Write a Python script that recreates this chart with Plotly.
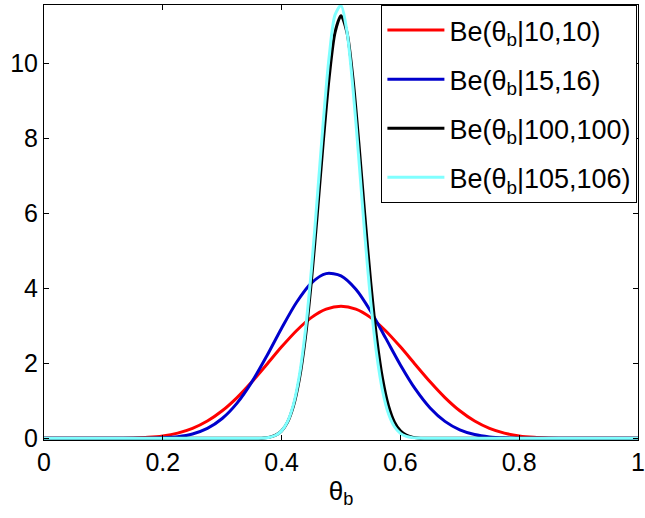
import plotly.graph_objects as go

# Be(10,10)
x_red = [0, 0.05, 0.1, 0.125, 0.15, 0.175, 0.2, 0.225, 0.25, 0.275, 0.3, 0.325, 0.35, 0.375, 0.4, 0.425,
         0.45, 0.475, 0.5, 0.525, 0.55, 0.575, 0.6, 0.625, 0.65, 0.675, 0.7, 0.725, 0.75, 0.775, 0.8,
         0.825, 0.85, 0.875, 0.9, 0.95, 1]
y_red = [0, 0, 0.0004, 0.0021, 0.0083, 0.0252, 0.0635, 0.1377, 0.2646, 0.460, 0.734, 1.087, 1.508, 1.971,
         2.440, 2.871, 3.219, 3.445, 3.524, 3.445, 3.219, 2.871, 2.440, 1.971, 1.508, 1.087, 0.734, 0.460,
         0.2646, 0.1377, 0.0635, 0.0252, 0.0083, 0.0021, 0.0004, 0, 0]

# Be(15,16)
x_blue = [0, 0.05, 0.1, 0.15, 0.175, 0.2, 0.225, 0.25, 0.275, 0.3, 0.325, 0.35, 0.375, 0.4, 0.425, 0.45,
          0.475, 0.5, 0.525, 0.55, 0.575, 0.6, 0.625, 0.65, 0.675, 0.7, 0.725, 0.75, 0.775, 0.8, 0.825,
          0.85, 0.9, 0.95, 1]
y_blue = [0, 0, 0, 0.0006, 0.0033, 0.0134, 0.0433, 0.1158, 0.2646, 0.5284, 0.939, 1.505, 2.195, 2.937,
          3.624, 4.142, 4.394, 4.334, 3.976, 3.388, 2.679, 1.958, 1.317, 0.810, 0.452, 0.2265, 0.1003,
          0.0386, 0.0126, 0.0034, 0.0007, 0.0001, 0, 0, 0]

# Be(100,100)
x_black = [0, 0.1, 0.2, 0.3, 0.34, 0.35, 0.36, 0.37, 0.38, 0.39, 0.4, 0.41, 0.42, 0.43, 0.44, 0.45, 0.46,
           0.47, 0.48, 0.49, 0.5, 0.51, 0.52, 0.53, 0.54, 0.55, 0.56, 0.57, 0.58, 0.59, 0.6, 0.61, 0.62,
           0.63, 0.64, 0.65, 0.66, 0.7, 0.8, 0.9, 1]
y_black = [0, 0, 0, 0, 0, 0.0010, 0.0035, 0.0110, 0.0317, 0.0830, 0.198, 0.432, 0.865, 1.588, 2.681,
           4.167, 5.969, 7.886, 9.618, 10.832, 11.270, 10.832, 9.618, 7.886, 5.969, 4.167, 2.681, 1.588,
           0.865, 0.432, 0.198, 0.0830, 0.0317, 0.0110, 0.0035, 0.0010, 0, 0, 0, 0, 0]

# Be(105,106)
x_cyan = [0, 0.1, 0.2, 0.3, 0.34, 0.35, 0.36, 0.37, 0.38, 0.39, 0.4, 0.41, 0.42, 0.43, 0.44, 0.45, 0.46,
          0.47, 0.48, 0.49, 0.5, 0.51, 0.52, 0.53, 0.54, 0.55, 0.56, 0.57, 0.58, 0.59, 0.6, 0.61, 0.62,
          0.63, 0.64, 0.65, 0.66, 0.7, 0.8, 0.9, 1]
y_cyan = [0, 0, 0, 0, 0, 0.0009, 0.0030, 0.0100, 0.0299, 0.0809, 0.1985, 0.4429, 0.9025, 1.680, 2.862,
          4.467, 6.398, 8.414, 10.168, 11.298, 11.548, 10.855, 9.366, 7.464, 5.448, 3.655, 2.249, 1.267,
          0.6533, 0.3078, 0.1323, 0.0518, 0.0184, 0.0059, 0.0017, 0.0005, 0, 0, 0, 0, 0]

names = ["Be(θ<sub>b</sub>|10,10)", "Be(θ<sub>b</sub>|15,16)",
         "Be(θ<sub>b</sub>|100,100)", "Be(θ<sub>b</sub>|105,106)"]
colors = ["#ff0000", "#0000cc", "#000000", "#80ffff"]
xs = [x_red, x_blue, x_black, x_cyan]
ys = [y_red, y_blue, y_black, y_cyan]

x_ticks = [0, 0.2, 0.4, 0.6, 0.8, 1]
x_ticktext = ["0", "0.2", "0.4", "0.6", "0.8", "1"]
y_ticks = [0, 2, 4, 6, 8, 10]

fig = go.Figure()
for i in range(4):
    fig.add_trace(go.Scatter(x=xs[i], y=ys[i], mode="lines", name=names[i],
                             legendgroup=str(i),
                             line=dict(color=colors[i], width=3, shape="spline", smoothing=0.8)))

font = "Liberation Sans, Arial, Helvetica, sans-serif"
fig.update_layout(
    width=645, height=518,
    margin=dict(l=44, r=7, t=5, b=78),
    paper_bgcolor="white", plot_bgcolor="white",
    font=dict(family=font, size=25, color="black"),
    showlegend=True,
    legend=dict(x=0.999, y=1, xanchor="right", yanchor="top", bgcolor="white",
                bordercolor="black", borderwidth=1, font=dict(size=27, family=font),
                tracegroupgap=11, itemwidth=57),
    xaxis=dict(range=[0, 1], tickvals=x_ticks, ticktext=x_ticktext, automargin=False,
               showline=True, linecolor="black", linewidth=1, mirror="ticks",
               ticks="inside", ticklen=5, tickcolor="black", showgrid=False, zeroline=False,
               ticklabeloverflow="allow",
               title=dict(text="θ<sub>b</sub>", font=dict(size=26), standoff=6),
               tickfont=dict(size=25)),
    yaxis=dict(range=[-0.045, 11.56], tickvals=y_ticks, showline=True, linecolor="black", linewidth=1,
               mirror="ticks", ticks="inside", ticklen=5, tickcolor="black", showgrid=False,
               zeroline=False, tickfont=dict(size=25)),
)

fig.write_html("out.html", config={"displayModeBar": False},
               post_script="document.body.style.margin='0';")
